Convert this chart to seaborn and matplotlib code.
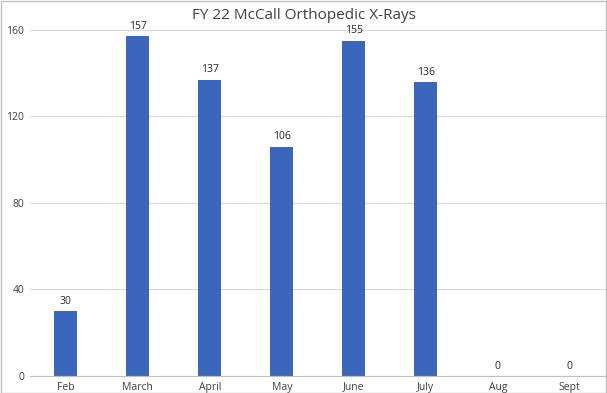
import matplotlib
matplotlib.use("Agg")
import matplotlib.pyplot as plt
import seaborn as sns
import pandas as pd
from matplotlib.patches import Rectangle

# Daten
months = ["Feb", "March", "April", "May", "June", "July", "Aug", "Sept"]
xrays = [30, 157, 137, 106, 155, 136, 0, 0]
y_ticks = [0, 40, 80, 120, 160]

df = pd.DataFrame({"month": months, "xrays": xrays})

sns.set_style("white")
plt.rcParams["font.family"] = ["Open Sans", "DejaVu Sans"]

fig = plt.figure(figsize=(6.07, 3.93), dpi=100)
ax = fig.add_axes([0.049, 0.0433, 0.949, 0.8804])

sns.barplot(data=df, x="month", y="xrays", color="#3A67BC", width=0.32,
            saturation=1, linewidth=0, ax=ax)

# Werte über den Balken
for i, v in enumerate(xrays):
    ax.text(i, v + 2, f"{v}", ha="center", va="bottom", fontsize=7.5, color="#262626")

ax.set_ylim(0, 160)
ax.set_xlim(-0.5, len(months) - 0.5)
ax.set_yticks(y_ticks)
ax.yaxis.grid(True, color="#D9D9D9", linewidth=0.8)
ax.set_axisbelow(True)
for s in ["top", "right", "left"]:
    ax.spines[s].set_visible(False)
ax.spines["bottom"].set_color("#BFBFBF")
ax.tick_params(axis="both", length=0, labelsize=7.5, colors="#404040", pad=4)
ax.set_xlabel("")
ax.set_ylabel("")

fig.text(0.5, 0.96, "FY 22 McCall Orthopedic X-Rays", ha="center", va="center",
         fontsize=11, color="#404040")

# Rahmen um die Grafik
fig.patches.append(Rectangle((0.001, 0.001), 0.997, 0.997, transform=fig.transFigure,
                             fill=False, edgecolor="#BFBFBF", linewidth=1))

fig.savefig("out.png", dpi=100)
